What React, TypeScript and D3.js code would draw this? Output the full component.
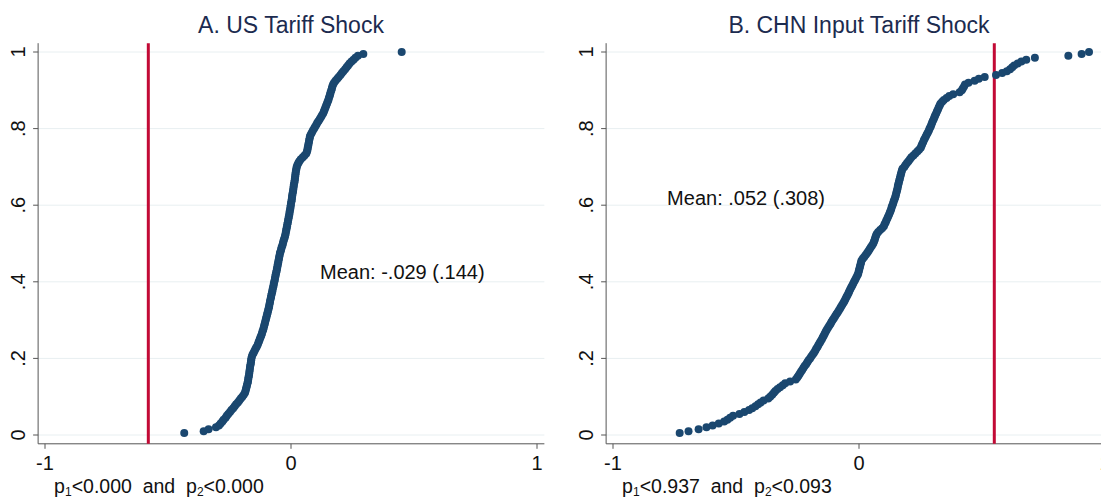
import React from "react";
import * as d3 from "d3";

const usValues: number[] = [
  -0.434, -0.355, -0.335, -0.305, -0.293, -0.286, -0.279, -0.274, -0.266, -0.261,
  -0.255, -0.248, -0.242, -0.235, -0.229, -0.223, -0.216, -0.210, -0.204, -0.198,
  -0.192, -0.187, -0.185, -0.183, -0.181, -0.179, -0.177, -0.175, -0.174, -0.173,
  -0.171, -0.170, -0.169, -0.168, -0.167, -0.166, -0.164, -0.163, -0.162, -0.161,
  -0.159, -0.156, -0.152, -0.148, -0.144, -0.140, -0.136, -0.133, -0.130, -0.127,
  -0.124, -0.121, -0.118, -0.116, -0.113, -0.111, -0.109, -0.107, -0.105, -0.103,
  -0.101, -0.099, -0.097, -0.095, -0.093, -0.091, -0.089, -0.088, -0.086, -0.085,
  -0.083, -0.081, -0.080, -0.078, -0.076, -0.075, -0.073, -0.071, -0.070, -0.068,
  -0.066, -0.065, -0.063, -0.062, -0.060, -0.058, -0.057, -0.055, -0.054, -0.052,
  -0.051, -0.049, -0.048, -0.046, -0.045, -0.042, -0.040, -0.038, -0.035, -0.033,
  -0.031, -0.029, -0.026, -0.024, -0.022, -0.021, -0.019, -0.018, -0.016, -0.015,
  -0.013, -0.012, -0.010, -0.009, -0.007, -0.006, -0.005, -0.003, -0.002, -0.001,
  0.000, 0.002, 0.003, 0.004, 0.005, 0.006, 0.008, 0.009, 0.010, 0.011,
  0.012, 0.014, 0.015, 0.016, 0.017, 0.018, 0.019, 0.020, 0.022, 0.023,
  0.026, 0.030, 0.034, 0.040, 0.048, 0.055, 0.062, 0.065, 0.067, 0.068,
  0.070, 0.071, 0.073, 0.074, 0.076, 0.077, 0.081, 0.085, 0.089, 0.094,
  0.098, 0.103, 0.107, 0.112, 0.117, 0.122, 0.126, 0.131, 0.134, 0.137,
  0.140, 0.143, 0.146, 0.149, 0.152, 0.154, 0.157, 0.159, 0.161, 0.164,
  0.166, 0.168, 0.171, 0.175, 0.181, 0.188, 0.194, 0.201, 0.207, 0.213,
  0.220, 0.226, 0.232, 0.238, 0.246, 0.254, 0.262, 0.272, 0.294, 0.450,
];

const chnValues: number[] = [
  -0.729, -0.693, -0.652, -0.620, -0.595, -0.570, -0.548, -0.535, -0.524, -0.512,
  -0.486, -0.466, -0.447, -0.434, -0.421, -0.410, -0.400, -0.388, -0.369, -0.361,
  -0.353, -0.346, -0.340, -0.331, -0.321, -0.310, -0.300, -0.280, -0.257, -0.251,
  -0.246, -0.241, -0.236, -0.231, -0.226, -0.221, -0.215, -0.210, -0.205, -0.199,
  -0.194, -0.188, -0.183, -0.178, -0.174, -0.169, -0.165, -0.160, -0.156, -0.151,
  -0.147, -0.143, -0.139, -0.135, -0.131, -0.126, -0.121, -0.116, -0.112, -0.107,
  -0.102, -0.097, -0.092, -0.087, -0.082, -0.077, -0.073, -0.068, -0.063, -0.059,
  -0.055, -0.051, -0.047, -0.043, -0.040, -0.036, -0.032, -0.028, -0.024, -0.020,
  -0.016, -0.012, -0.008, -0.004, -0.002, 0.000, 0.002, 0.004, 0.006, 0.008,
  0.010, 0.015, 0.021, 0.027, 0.033, 0.038, 0.043, 0.048, 0.053, 0.058,
  0.061, 0.064, 0.066, 0.069, 0.072, 0.078, 0.086, 0.094, 0.101, 0.104,
  0.108, 0.111, 0.115, 0.118, 0.122, 0.125, 0.128, 0.131, 0.133, 0.136,
  0.139, 0.141, 0.144, 0.147, 0.149, 0.151, 0.153, 0.155, 0.157, 0.158,
  0.160, 0.162, 0.164, 0.166, 0.168, 0.170, 0.172, 0.174, 0.177, 0.184,
  0.189, 0.195, 0.201, 0.207, 0.213, 0.221, 0.229, 0.237, 0.244, 0.251,
  0.254, 0.257, 0.261, 0.264, 0.268, 0.272, 0.276, 0.280, 0.284, 0.287,
  0.291, 0.294, 0.297, 0.300, 0.304, 0.307, 0.310, 0.314, 0.317, 0.321,
  0.324, 0.328, 0.331, 0.338, 0.345, 0.356, 0.367, 0.383, 0.409, 0.418,
  0.422, 0.427, 0.431, 0.445, 0.470, 0.487, 0.511, 0.557, 0.582, 0.601,
  0.614, 0.623, 0.631, 0.645, 0.660, 0.680, 0.715, 0.851, 0.905, 0.935,
];

const titles = ["A. US Tariff Shock", "B. CHN Input Tariff Shock"];
const actualValues = [-0.58, 0.55];
const meanLabels = ["Mean: -.029 (.144)", "Mean: .052 (.308)"];
const meanPositions = [
  [0.118, 0.426],
  [-0.78, 0.62],
];
const pValues = [
  ["0.000", "0.000"],
  ["0.937", "0.093"],
];
const xTicks = [-1, 0, 1];
const yTicks = [0, 0.2, 0.4, 0.6, 0.8, 1];
const yTickLabels = ["0", ".2", ".4", ".6", ".8", "1"];

const FONT = "'Liberation Sans', Arial, Helvetica, sans-serif";
const NAVY = "#1a476f";
const RED = "#c20a35";
const GRID = "#e8eff1";
const AXIS = "#555555";

function Panel({
  values,
  index,
  offsetX,
}: {
  values: number[];
  index: number;
  offsetX: number;
}) {
  const x = d3.scaleLinear().domain([-1, 1]).range([45 + offsetX, 537 + offsetX]);
  const y = d3.scaleLinear().domain([0, 1]).range([435, 52]);
  const left = x(-1.028);
  const right = x(1.03);
  const top = y(1.023);
  const bottom = y(-0.023);
  const n = values.length;
  const sorted = [...values].sort((a, b) => a - b);
  const titleX = x(0);
  return (
    <g>
      <text
        x={titleX}
        y={33}
        textAnchor="middle"
        fontFamily={FONT}
        fontSize={23}
        fill="#1c2b4f"
      >
        {titles[index]}
      </text>
      {yTicks.map((t) => (
        <line
          key={"g" + t}
          x1={left}
          x2={right}
          y1={y(t)}
          y2={y(t)}
          stroke={GRID}
          strokeWidth={1}
        />
      ))}
      <line x1={left} x2={left} y1={top} y2={bottom} stroke={AXIS} strokeWidth={1} />
      <line x1={left} x2={right} y1={bottom} y2={bottom} stroke={AXIS} strokeWidth={1} />
      {yTicks.map((t, i) => (
        <g key={"yt" + t}>
          <line x1={left - 5} x2={left} y1={y(t)} y2={y(t)} stroke={AXIS} strokeWidth={1} />
          <text
            transform={`translate(${left - 13},${y(t)}) rotate(-90)`}
            textAnchor="middle"
            fontFamily={FONT}
            fontSize={20}
            fill="#111"
          >
            {yTickLabels[i]}
          </text>
        </g>
      ))}
      {xTicks.map((t) => (
        <g key={"xt" + t}>
          <line x1={x(t)} x2={x(t)} y1={bottom} y2={bottom + 5} stroke={AXIS} strokeWidth={1} />
          <text
            x={x(t)}
            y={bottom + 26}
            textAnchor="middle"
            fontFamily={FONT}
            fontSize={20}
            fill="#111"
          >
            {t}
          </text>
        </g>
      ))}
      <line
        x1={x(actualValues[index])}
        x2={x(actualValues[index])}
        y1={top}
        y2={bottom}
        stroke={RED}
        strokeWidth={3}
      />
      {sorted.map((v, i) => (
        <circle key={i} cx={x(v)} cy={y((i + 1) / n)} r={4} fill={NAVY} />
      ))}
      <text
        x={x(meanPositions[index][0])}
        y={y(meanPositions[index][1])}
        dy="0.35em"
        fontFamily={FONT}
        fontSize={20}
        fill="#111"
      >
        {meanLabels[index]}
      </text>
      <text x={left + 16} y={493} fontFamily={FONT} fontSize={19.5} fill="#111">
        <tspan>p</tspan>
        <tspan fontSize={12} dy={3}>1</tspan>
        <tspan dy={-3}>{"<" + pValues[index][0] + "\u00a0\u00a0and\u00a0\u00a0p"}</tspan>
        <tspan fontSize={12} dy={3}>2</tspan>
        <tspan dy={-3}>{"<" + pValues[index][1]}</tspan>
      </text>
    </g>
  );
}

export default function App() {
  return (
    <div style={{ position: "fixed", left: 0, top: 0 }}>
      <svg width={1101} height={499} style={{ display: "block", background: "#fff" }}>
        <rect x={0} y={0} width={1101} height={499} fill="#fff" />
        <Panel values={usValues} index={0} offsetX={0} />
        <Panel values={chnValues} index={1} offsetX={568} />
      </svg>
    </div>
  );
}
